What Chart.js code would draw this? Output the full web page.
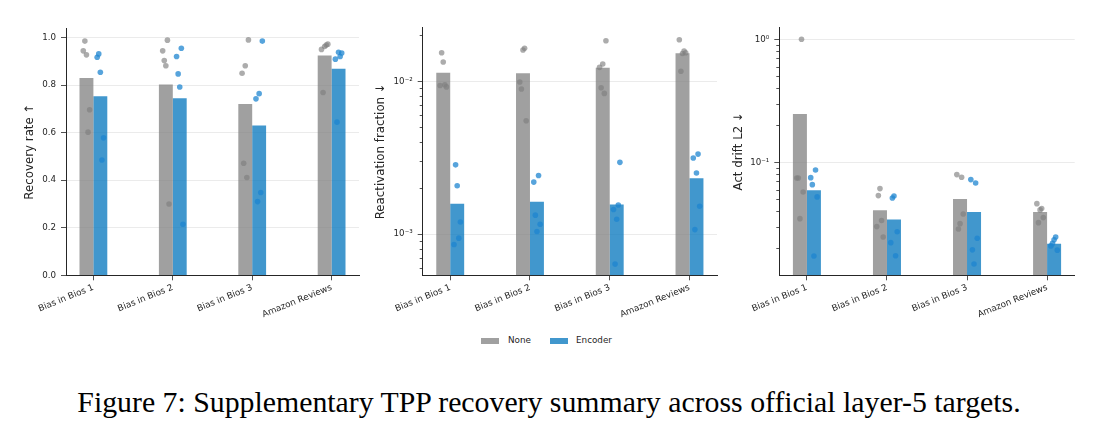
<!DOCTYPE html>
<html>
<head>
<meta charset="utf-8">
<script src="https://cdn.jsdelivr.net/npm/chart.js@4.4.0/dist/chart.umd.min.js"></script>
<style>
html,body{margin:0;padding:0;background:#fff;}
body{width:1098px;height:435px;position:relative;overflow:hidden;font-family:"DejaVu Sans",sans-serif;}
canvas{position:absolute;top:0;}
#c1{left:0;}
#c2{left:368px;}
#c3{left:728px;}
.sw{position:absolute;height:6px;width:18px;top:337.5px;}
.lt{position:absolute;top:333px;font-size:8.8px;line-height:14px;color:#262626;white-space:nowrap;}
#caption{position:absolute;left:0;top:387px;width:1098px;text-align:center;font-family:"Liberation Serif",serif;font-size:29.8px;line-height:29.8px;color:#000;white-space:nowrap;}
</style>
</head>
<body>
<canvas id="c1" width="368" height="320"></canvas>
<canvas id="c2" width="360" height="320"></canvas>
<canvas id="c3" width="370" height="320"></canvas>
<div class="sw" style="left:481px;background:rgba(128,128,128,0.75)"></div>
<div class="lt" style="left:508px">None</div>
<div class="sw" style="left:550px;background:rgba(23,128,194,0.82)"></div>
<div class="lt" style="left:576px">Encoder</div>
<div id="caption">Figure 7: Supplementary TPP recovery summary across official layer-5 targets.</div>
<script>
// ---------------- data ----------------
const CATEGORIES = ['Bias in Bios 1', 'Bias in Bios 2', 'Bias in Bios 3', 'Amazon Reviews'];
const SERIES = ['None', 'Encoder'];

// Panel 1: Recovery rate (higher is better)
const RECOVERY_NONE_MEAN = [0.830, 0.802, 0.720, 0.924];
const RECOVERY_ENC_MEAN  = [0.753, 0.745, 0.630, 0.869];
const RECOVERY_NONE_RUNS = [
  [0.944, 0.985, 0.927, 0.602, 0.696],
  [0.944, 0.903, 0.881, 0.989, 0.300],
  [0.850, 0.471, 0.881, 0.411, 0.990],
  [0.950, 0.769, 0.962, 0.968, 0.972]
];
const RECOVERY_ENC_RUNS = [
  [0.917, 0.931, 0.854, 0.485, 0.578],
  [0.920, 0.847, 0.792, 0.955, 0.215],
  [0.742, 0.310, 0.764, 0.348, 0.985],
  [0.909, 0.644, 0.938, 0.920, 0.935]
];

// Panel 2: Reactivation fraction (lower is better)
const REACT_NONE_MEAN = [0.0114, 0.0113, 0.0123, 0.0153];
const REACT_ENC_MEAN  = [0.00158, 0.00163, 0.00156, 0.00232];
const REACT_NONE_RUNS = [
  [0.0094, 0.0154, 0.0134, 0.0095, 0.0092],
  [0.0099, 0.00891, 0.01604, 0.01645, 0.00552],
  [0.01235, 0.00909, 0.01299, 0.00834, 0.01846],
  [0.01875, 0.01164, 0.01524, 0.01581, 0.01541]
];
const REACT_ENC_RUNS = [
  [0.000855, 0.00284, 0.00207, 0.00094, 0.00120],
  [0.00219, 0.00133, 0.00104, 0.00242, 0.00116],
  [0.00145, 0.000636, 0.00125, 0.00155, 0.00295],
  [0.00315, 0.00107, 0.00251, 0.00334, 0.00152]
];

// Panel 3: Act drift L2 (lower is better)
const DRIFT_NONE_MEAN = [0.247, 0.0407, 0.0503, 0.0395];
const DRIFT_ENC_MEAN  = [0.0592, 0.0342, 0.0395, 0.0218];
const DRIFT_NONE_RUNS = [
  [0.0746, 0.0746, 0.0348, 1.0, 0.0574],
  [0.0300, 0.0536, 0.0611, 0.0336, 0.0247],
  [0.0794, 0.0287, 0.0317, 0.0755, 0.0380],
  [0.0461, 0.0323, 0.0410, 0.0420, 0.0355]
];
const DRIFT_ENC_RUNS = [
  [0.0750, 0.0658, 0.0173, 0.0866, 0.0523],
  [0.0222, 0.0513, 0.0532, 0.0174, 0.0272],
  [0.0723, 0.0194, 0.0149, 0.0679, 0.0241],
  [0.0209, 0.0219, 0.0234, 0.0247, 0.0193]
];

// ---------------- styling / layout ----------------
const JITTER = [-0.04, -0.02, 0, 0.02, 0.04];   // per-run horizontal jitter (category units)
const GROUP_WIDTH = 0.35;                        // total width of the bar pair
const HALF_BAR = GROUP_WIDTH / 4;                // centre offset of each bar
const NONE_BAR = 'rgba(128,128,128,0.75)';
const ENC_BAR = 'rgba(23,128,194,0.82)';
const NONE_PT = 'rgba(128,128,128,0.65)';
const ENC_PT = 'rgba(31,134,208,0.75)';
const INK = '#262626';
const GRID = '#e6e6e6';
const FONT = 'DejaVu Sans';

Chart.defaults.font.family = FONT;
Chart.defaults.color = INK;

const SUP = {'-': '\u207B', '0': '\u2070', '1': '\u00B9', '2': '\u00B2', '3': '\u00B3', '4': '\u2074', '5': '\u2075', '6': '\u2076', '7': '\u2077', '8': '\u2078', '9': '\u2079'};
function isMajorLog(v) { const l = Math.log10(v); return Math.abs(l - Math.round(l)) < 1e-9; }
function logLabel(v) { const e = Math.round(Math.log10(v)); return '10' + String(e).split('').map(c => SUP[c]).join(''); }

const minorTickPlugin = {
  id: 'minorTicks',
  afterDraw(chart) {
    const y = chart.scales.y;
    if (y.type !== 'logarithmic') return;
    const ctx = chart.ctx;
    const x0 = chart.chartArea.left;
    ctx.save();
    ctx.strokeStyle = INK;
    ctx.lineWidth = 0.8;
    y.ticks.forEach(t => {
      if (isMajorLog(t.value)) return;
      const py = Math.round(y.getPixelForValue(t.value)) + 0.5;
      ctx.beginPath(); ctx.moveTo(x0 - 3, py); ctx.lineTo(x0, py); ctx.stroke();
    });
    ctx.restore();
  }
};

function pointsFor(runs, side) {
  const pts = [];
  runs.forEach((vals, i) => vals.forEach((v, k) => pts.push({x: i + side * HALF_BAR + JITTER[k], y: v})));
  return pts;
}

function makePanel(id, p) {
  const isLog = p.yType === 'logarithmic';
  const yScale = {
    type: p.yType,
    min: p.yMin, max: p.yMax,
    afterFit: s => { s.width = p.yAxisWidth; },
    afterBuildTicks: s => {
      if (isLog) {
        const t = [];
        for (let e = Math.floor(Math.log10(p.yMin)); e <= Math.ceil(Math.log10(p.yMax)); e++) {
          for (let m = 1; m <= 9; m++) {
            const v = m * Math.pow(10, e);
            if (v >= p.yMin * 0.999999 && v <= p.yMax * 1.000001) t.push({value: v});
          }
        }
        s.ticks = t;
      } else {
        s.ticks = p.yTicks.map(v => ({value: v}));
      }
    },
    ticks: {
      autoSkip: false,
      padding: 5,
      color: INK,
      font: {size: 8.7, family: FONT},
      callback: v => isLog ? (isMajorLog(v) ? logLabel(v) : '') : v.toFixed(1)
    },
    grid: {
      drawOnChartArea: true,
      drawTicks: true,
      tickLength: 5,
      lineWidth: 0.8,
      tickWidth: 0.8,
      color: c => (!isLog || isMajorLog(c.tick.value)) ? GRID : 'rgba(0,0,0,0)',
      tickColor: c => (!isLog || isMajorLog(c.tick.value)) ? INK : 'rgba(0,0,0,0)'
    },
    border: {display: true, color: INK, width: 1},
    title: {
      display: true, text: p.title, color: INK,
      font: {size: 11.8, family: FONT},
      padding: {top: p.titlePad, bottom: 0}
    }
  };
  const xScale = {
    type: 'linear',
    offset: false,
    min: -0.345, max: 3.345,
    afterFit: s => { s.height = 320 - 275.3; },
    afterBuildTicks: s => { s.ticks = CATEGORIES.map((_, i) => ({value: i})); },
    ticks: {
      autoSkip: false,
      minRotation: 22, maxRotation: 22,
      padding: 2,
      color: INK,
      font: {size: 8.8, family: FONT},
      callback: v => CATEGORIES[v]
    },
    grid: {
      offset: false,
      drawOnChartArea: false,
      drawTicks: true,
      tickLength: 5,
      tickWidth: 0.8,
      tickColor: INK
    },
    border: {display: true, color: INK, width: 1}
  };
  return new Chart(document.getElementById(id), {
    type: 'bar',
    data: {
      datasets: [
        {type: 'scatter', label: SERIES[0] + ' runs', data: pointsFor(p.noneRuns, -1), backgroundColor: NONE_PT, borderWidth: 0, pointRadius: 2.8, order: 1},
        {type: 'scatter', label: SERIES[1] + ' runs', data: pointsFor(p.encRuns, 1), backgroundColor: ENC_PT, borderWidth: 0, pointRadius: 2.8, order: 1},
        {type: 'bar', label: SERIES[0], data: p.noneMean.map((v, i) => ({x: i, y: v})), backgroundColor: NONE_BAR, borderWidth: 0, categoryPercentage: GROUP_WIDTH, barPercentage: 1.0, order: 2},
        {type: 'bar', label: SERIES[1], data: p.encMean.map((v, i) => ({x: i, y: v})), backgroundColor: ENC_BAR, borderWidth: 0, categoryPercentage: GROUP_WIDTH, barPercentage: 1.0, order: 2}
      ]
    },
    options: {
      responsive: false,
      animation: false,
      devicePixelRatio: 1,
      layout: {padding: {top: p.top, right: p.padRight, bottom: 0, left: 0}},
      plugins: {legend: {display: false}, tooltip: {enabled: false}},
      scales: {x: xScale, y: yScale}
    },
    plugins: [minorTickPlugin]
  });
}

makePanel('c1', {
  yType: 'linear', yMin: 0, yMax: 1.04, yTicks: [0, 0.2, 0.4, 0.6, 0.8, 1.0],
  title: 'Recovery rate \u2191',
  noneMean: RECOVERY_NONE_MEAN, encMean: RECOVERY_ENC_MEAN,
  noneRuns: RECOVERY_NONE_RUNS, encRuns: RECOVERY_ENC_RUNS,
  yAxisWidth: 66, padRight: 9, top: 28, titlePad: 22.9
});
makePanel('c2', {
  yType: 'logarithmic', yMin: 5.37e-4, yMax: 0.0226,
  title: 'Reactivation fraction \u2193',
  noneMean: REACT_NONE_MEAN, encMean: REACT_ENC_MEAN,
  noneRuns: REACT_NONE_RUNS, encRuns: REACT_ENC_RUNS,
  yAxisWidth: 54.7, padRight: 11, top: 27.3, titlePad: 5.6
});
makePanel('c3', {
  yType: 'logarithmic', yMin: 0.01205, yMax: 1.252,
  title: 'Act drift L2 \u2193',
  noneMean: DRIFT_NONE_MEAN, encMean: DRIFT_ENC_MEAN,
  noneRuns: DRIFT_NONE_RUNS, encRuns: DRIFT_ENC_RUNS,
  yAxisWidth: 51.3, padRight: 23.3, top: 27.3, titlePad: 4.2
});
</script>
</body>
</html>
